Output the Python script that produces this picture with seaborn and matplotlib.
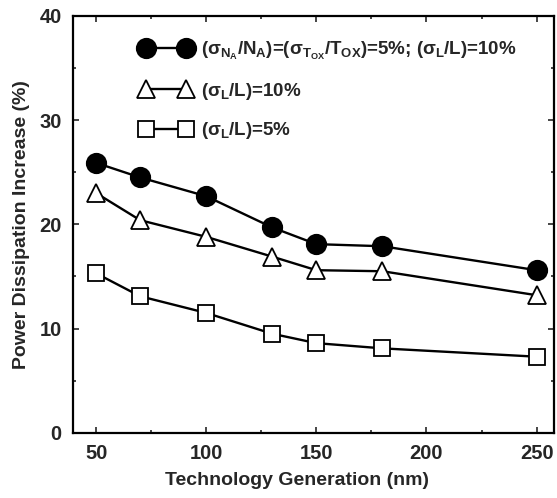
import pandas as pd
import matplotlib.pyplot as plt
import seaborn as sns
from matplotlib.ticker import MultipleLocator

# Data
nodes = [50, 70, 100, 130, 150, 180, 250]
all_var = [25.9, 24.5, 22.7, 19.7, 18.1, 17.9, 15.6]
len_10 = [23.0, 20.4, 18.8, 16.9, 15.6, 15.5, 13.2]
len_5 = [15.3, 13.1, 11.5, 9.5, 8.6, 8.1, 7.3]

labels = [
    r"$(\sigma_{N_A}/N_A)$=$(\sigma_{T_{OX}}/T_{OX})$=5%; $(\sigma_L/L)$=10%",
    r"$(\sigma_L/L)$=10%",
    r"$(\sigma_L/L)$=5%",
]

sns.set_theme(style="ticks")
plt.rcParams["font.family"] = ["Liberation Sans", "DejaVu Sans"]
plt.rcParams["font.weight"] = "bold"
plt.rcParams["mathtext.fontset"] = "custom"
plt.rcParams["mathtext.rm"] = "Liberation Sans:bold"
plt.rcParams["mathtext.it"] = "Liberation Sans:bold"
plt.rcParams["mathtext.bf"] = "Liberation Sans:bold"

df = pd.DataFrame({"node": nodes * 3,
                   "value": all_var + len_10 + len_5,
                   "series": [labels[0]] * 7 + [labels[1]] * 7 + [labels[2]] * 7})

fig = plt.figure(figsize=(5.57, 4.98), dpi=100)
ax = fig.add_axes([0.131, 0.131, 0.864, 0.837])

styles = [("o", "black", 14), ("^", "white", 13), ("s", "white", 11)]
for lab, (mk, fc, ms) in zip(labels, styles):
    sub = df[df["series"] == lab]
    sns.lineplot(data=sub, x="node", y="value", ax=ax, color="black", lw=1.7,
                 marker=mk, markersize=ms, markerfacecolor=fc,
                 markeredgecolor="black", markeredgewidth=1.3, label=lab)

ax.set_xlim(39.5, 258)
ax.set_ylim(0, 40)
ax.xaxis.set_major_locator(MultipleLocator(50))
ax.xaxis.set_minor_locator(MultipleLocator(25))
ax.yaxis.set_major_locator(MultipleLocator(10))
ax.yaxis.set_minor_locator(MultipleLocator(5))
ax.tick_params(which="both", direction="in", top=True, right=True, width=1.2)
ax.tick_params(which="major", length=4, labelsize=14.5, pad=8)
ax.tick_params(which="minor", length=2)
for lbl in ax.get_xticklabels() + ax.get_yticklabels():
    lbl.set_fontweight("bold")
for sp in ax.spines.values():
    sp.set_linewidth(1.6)
    sp.set_color("black")

ax.set_xlabel("Technology Generation (nm)", fontsize=14, fontweight="bold")
ax.set_ylabel("Power Dissipation Increase (%)", fontsize=14, fontweight="bold")
ax.xaxis.set_label_coords(0.465, -0.095)
ax.yaxis.set_label_coords(-0.09, 0.5)

ax.legend(loc="upper left", bbox_to_anchor=(0.141, 0.943), frameon=False,
          numpoints=2, handlelength=2.7, labelspacing=1.0, borderaxespad=0,
          borderpad=0, handletextpad=0.5, prop={"size": 13.5, "weight": "bold"})

fig.savefig("out.png", dpi=100)
